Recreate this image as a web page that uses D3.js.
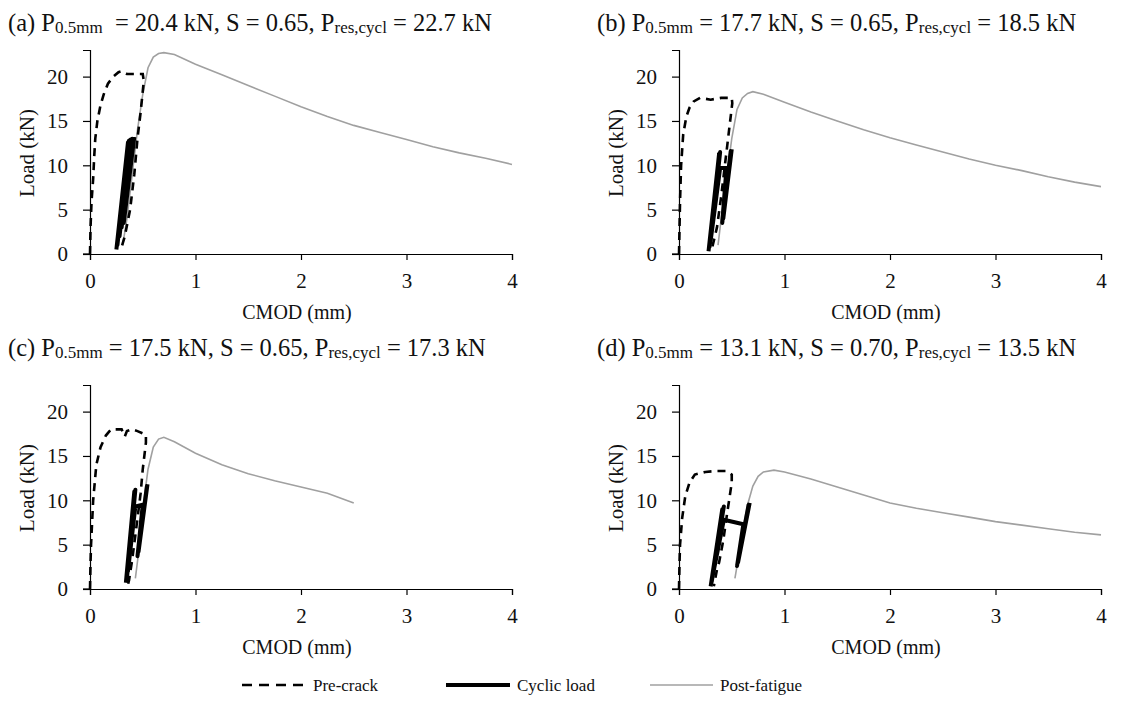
<!DOCTYPE html>
<html><head><meta charset="utf-8">
<script src="https://cdn.jsdelivr.net/npm/d3@7"></script>
<style>
body{margin:0;background:#fff;}
svg, svg text{font-family:"Liberation Serif","DejaVu Serif",serif !important;}
</style></head><body>
<svg id="c" width="1121" height="703"></svg>
<script>
// ---------- DATA ----------
const xTicks = [0,1,2,3,4];
const yTicks = [0,5,10,15,20];
const titles = [
  {lab:"(a) ", p:"0.5mm", v1:"  = 20.4 kN, S = 0.65, ", v2:" = 22.7 kN"},
  {lab:"(b) ", p:"0.5mm", v1:" = 17.7 kN, S = 0.65, ", v2:" = 18.5 kN"},
  {lab:"(c) ", p:"0.5mm", v1:" = 17.5 kN, S = 0.65, ", v2:" = 17.3 kN"},
  {lab:"(d) ", p:"0.5mm", v1:" = 13.1 kN, S = 0.70, ", v2:" = 13.5 kN"}
];
const seriesNames = ["Pre-crack","Cyclic load","Post-fatigue"];

// (a)
const preA = [[0,0],[0.005,3],[0.015,6],[0.03,8.5],[0.04,11],[0.05,13],[0.07,15],[0.1,16.8],[0.13,18],[0.17,19.2],[0.22,20],[0.27,20.5],[0.3,20.6],[0.35,20.3],[0.42,20.3],[0.5,20.3],[0.51,19.5],[0.48,16],[0.45,13],[0.42,9],[0.38,5],[0.33,2],[0.3,0.8]];
const cycA = [[0.25,0.5],[0.36,12.6],[0.26,1],[0.37,12.8],[0.28,2],[0.385,12.9],[0.3,3],[0.4,13],[0.32,3.5],[0.42,13.2]];
const postA = [[0.31,1],[0.35,4],[0.4,9],[0.45,14],[0.5,18],[0.55,21],[0.6,22.2],[0.65,22.6],[0.7,22.7],[0.8,22.5],[1,21.4],[1.25,20.2],[1.5,19],[1.75,17.8],[2,16.6],[2.25,15.5],[2.5,14.5],[2.75,13.7],[3,12.9],[3.25,12.1],[3.5,11.4],[3.75,10.8],[4,10.1]];
// (b)
const preB = [[0,0],[0.005,3],[0.01,6],[0.02,10],[0.04,13.5],[0.07,15.5],[0.1,16.5],[0.14,17.2],[0.2,17.6],[0.3,17.4],[0.4,17.6],[0.5,17.6],[0.505,17],[0.48,14.5],[0.46,12.5],[0.43,9.5],[0.4,6.5],[0.36,3],[0.32,1],[0.3,0.3]];
const cycB = [[0.28,0.3],[0.38,11.3],[0.29,0.8],[0.39,11.5],[0.3,1.5],[0.39,9.7],[0.45,9.7],[0.41,3.5],[0.49,11.6],[0.42,4],[0.5,11.8]];
const postB = [[0.37,1],[0.4,4],[0.45,8.5],[0.5,13],[0.55,16.3],[0.6,17.6],[0.65,18.1],[0.7,18.3],[0.8,18],[1,17.1],[1.25,16],[1.5,15],[1.75,14],[2,13.1],[2.25,12.3],[2.5,11.5],[2.75,10.7],[3,10],[3.25,9.4],[3.5,8.7],[3.75,8.1],[4,7.6]];
// (c)
const preC = [[0,0],[0.005,3],[0.01,5],[0.03,10],[0.06,14],[0.1,16],[0.15,17.3],[0.2,18],[0.3,18],[0.33,17.2],[0.35,17.8],[0.4,18],[0.45,17.8],[0.53,17.4],[0.53,16.5],[0.5,13.5],[0.48,10.8],[0.44,7],[0.4,3.3],[0.37,1],[0.36,0.5]];
const cycC = [[0.34,0.7],[0.42,11],[0.35,1.2],[0.43,11.2],[0.36,2],[0.43,9.3],[0.5,9.5],[0.45,3.7],[0.54,11.6],[0.46,4.2],[0.545,11.8]];
const postC = [[0.43,1.2],[0.47,5],[0.5,9],[0.55,13.5],[0.6,16],[0.65,16.9],[0.7,17.1],[0.8,16.6],[1,15.3],[1.25,14],[1.5,13],[1.75,12.2],[2,11.5],[2.25,10.8],[2.5,9.7]];
// (d)
const preD = [[0,0],[0.005,3],[0.01,5],[0.03,8],[0.06,10.5],[0.1,12],[0.15,12.9],[0.25,13.2],[0.35,13.3],[0.45,13.3],[0.5,12.9],[0.5,12],[0.475,10],[0.457,8.6],[0.42,5.5],[0.38,3],[0.36,2.2],[0.33,0.3]];
const cycD = [[0.3,0.3],[0.41,9],[0.31,0.8],[0.425,9.3],[0.32,1.5],[0.425,7.8],[0.61,7.3],[0.55,2.6],[0.66,9.5],[0.56,3],[0.67,9.7]];
const postD = [[0.53,1.2],[0.57,4],[0.61,7],[0.65,9.5],[0.7,11.6],[0.75,12.7],[0.8,13.2],[0.9,13.4],[1,13.2],[1.25,12.4],[1.5,11.5],[1.75,10.6],[2,9.7],[2.25,9.1],[2.5,8.6],[2.75,8.1],[3,7.6],[3.25,7.2],[3.5,6.8],[3.75,6.4],[4,6.1]];

const panels = [
  {x0:90,  y0:254, pre:preA, cyc:cycA, post:postA, tx:8,   ty:31},
  {x0:679, y0:254, pre:preB, cyc:cycB, post:postB, tx:597, ty:31},
  {x0:90,  y0:589, pre:preC, cyc:cycC, post:postC, tx:8,   ty:356},
  {x0:679, y0:589, pre:preD, cyc:cycD, post:postD, tx:597, ty:356}
];

// ---------- DRAW ----------
const svg = d3.select("#c");
const W = 422, H = 204;
const styles = {
  pre:  {stroke:"#000", width:2.6, dash:"8,6"},
  cyc:  {stroke:"#000", width:4,   dash:null},
  post: {stroke:"#a0a0a0", width:1.6, dash:null}
};

panels.forEach((p,i)=>{
  const x = d3.scaleLinear().domain([0,4]).range([p.x0, p.x0+W]);
  const y = d3.scaleLinear().domain([0,23]).range([p.y0, p.y0-H]);
  const g = svg.append("g");
  const line = d3.line().x(d=>x(d[0])).y(d=>y(d[1]));

  const xa = g.append("g").attr("transform",`translate(0,${p.y0})`)
    .call(d3.axisBottom(x).tickValues(xTicks).tickSize(6).tickPadding(13).tickFormat(d3.format("d")));
  const ya = g.append("g").attr("transform",`translate(${p.x0},0)`)
    .call(d3.axisLeft(y).tickValues(yTicks).tickSize(7).tickPadding(15).tickFormat(d3.format("d")));
  [xa,ya].forEach(a=>{
    a.attr("font-size",21);
    a.select(".domain").attr("stroke","#000").attr("stroke-width",1.2);
    a.selectAll(".tick line").attr("stroke","#000").attr("stroke-width",1.2);
    a.selectAll("text").attr("fill","#111");
  });
  g.append("line").attr("x1",p.x0-7).attr("x2",p.x0).attr("y1",p.y0).attr("y2",p.y0).attr("stroke","#000").attr("stroke-width",1.2);

  g.append("path").datum(p.post).attr("d",line).attr("fill","none")
    .attr("stroke",styles.post.stroke).attr("stroke-width",styles.post.width);
  g.append("path").datum(p.pre).attr("d",line).attr("fill","none")
    .attr("stroke",styles.pre.stroke).attr("stroke-width",styles.pre.width).attr("stroke-dasharray",styles.pre.dash);
  g.append("path").datum(p.cyc).attr("d",line).attr("fill","none")
    .attr("stroke",styles.cyc.stroke).attr("stroke-width",styles.cyc.width).attr("stroke-linejoin","round");

  g.append("text").attr("x",p.x0+207).attr("y",p.y0+65).attr("text-anchor","middle")
    .attr("font-size",20).attr("fill","#111").text("CMOD (mm)");
  g.append("text").attr("transform",`translate(${p.x0-61},${p.y0-101}) rotate(-90)`)
    .attr("text-anchor","middle").attr("dominant-baseline","middle")
    .attr("font-size",21).attr("fill","#111").text("Load (kN)");

  const t = titles[i];
  const tt = g.append("text").attr("x",p.tx).attr("y",p.ty).attr("font-size",24.5)
    .attr("fill","#111").style("white-space","pre");
  tt.append("tspan").text(t.lab+"P");
  tt.append("tspan").attr("font-size",17).attr("dy",2).text(t.p);
  tt.append("tspan").attr("dy",-2).text(t.v1+"P");
  tt.append("tspan").attr("font-size",17).attr("dy",2).text("res,cycl");
  tt.append("tspan").attr("dy",-2).text(t.v2);
});

// legend
const legY = 685;
const leg = [
  {k:"pre", x1:242, x2:306, tx:313},
  {k:"cyc", x1:446, x2:510, tx:517},
  {k:"post",x1:650, x2:713, tx:720}
];
leg.forEach((l,i)=>{
  const s = styles[l.k];
  svg.append("line").attr("x1",l.x1).attr("x2",l.x2).attr("y1",legY).attr("y2",legY)
    .attr("stroke",s.stroke).attr("stroke-width",s.width).attr("stroke-dasharray",l.k==="pre"?"10,7":s.dash);
  svg.append("text").attr("x",l.tx).attr("y",legY+6).attr("font-size",17)
    .attr("fill","#111").text(seriesNames[i]);
});
</script>
</body></html>
